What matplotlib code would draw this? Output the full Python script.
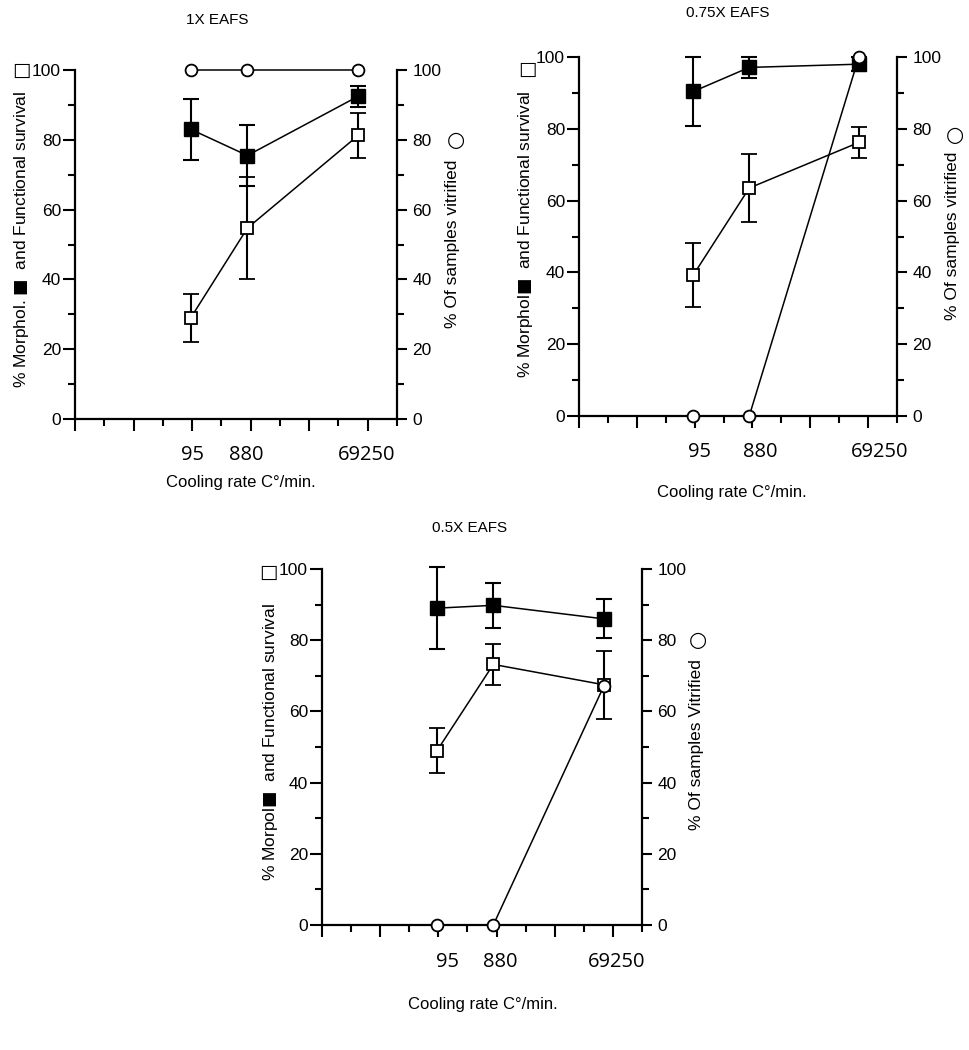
import matplotlib
matplotlib.use('Agg')
import matplotlib.pyplot as plt
from matplotlib.ticker import FixedLocator, NullFormatter, MultipleLocator
from matplotlib import transforms

# ---------------- data ----------------
rates = [95, 880, 69250]
rate_labels = ['95', '880', '69250']

titles = ['1X EAFS', '0.75X EAFS', '0.5X EAFS']
left_labels = ['% Morphol. $\\blacksquare$  and Functional survival',
               '% Morphol$\\blacksquare$  and Functional survival',
               '% Morpol$\\blacksquare$  and Functional survival']
right_labels = ['% Of samples vitrified',
                '% Of samples vitrified',
                '% Of samples Vitrified']
xlabel_text = 'Cooling rate C\u00b0/min.'

# 1X EAFS
morph_1x = [83.0, 75.5, 92.5]
morph_1x_err = [8.7, 8.7, 3.0]
func_1x = [29.0, 54.7, 81.3]
func_1x_err = [6.8, 14.6, 6.4]
vit_1x = [100, 100, 100]

# 0.75X EAFS
morph_075 = [90.4, 97.1, 98.0]
morph_075_err = [9.6, 3.0, 2.0]
func_075 = [39.3, 63.5, 76.2]
func_075_err = [9.0, 9.6, 4.3]
vit_075 = [0, 0, 100]

# 0.5X EAFS
morph_05 = [89.0, 89.8, 86.0]
morph_05_err = [11.5, 6.4, 5.5]
func_05 = [49.0, 73.2, 67.5]
func_05_err = [6.3, 5.8, 9.5]
vit_05 = [0, 0, 67]

series = [
    (morph_1x, morph_1x_err, func_1x, func_1x_err, vit_1x),
    (morph_075, morph_075_err, func_075, func_075_err, vit_075),
    (morph_05, morph_05_err, func_05, func_05_err, vit_05),
]

# ---------------- layout (pixels) ----------------
W, H = 970, 1050
layout = [
    dict(rect=(75, 70, 397, 419), title=(217, 20), xlab=(241, 482), tly=455,
         tldx=[2, -1, 8], ll=(22, 239), sq=(21, 70), rl=(453, 244), ci=(456, 140)),
    dict(rect=(579, 57, 897, 416), title=(728, 13), xlab=(732, 493), tly=452,
         tldx=[6, 11, 21], ll=(526, 234), sq=(527, 69), rl=(953, 236), ci=(955, 135)),
    dict(rect=(322, 569, 642, 925), title=(470, 528), xlab=(483, 1005), tly=962,
         tldx=[10, 7, 13], ll=(270, 742), sq=(268, 572), rl=(697, 745), ci=(698, 640)),
]

FONT = ['Liberation Sans', 'DejaVu Sans']
plt.rcParams['font.family'] = FONT
plt.rcParams['mathtext.fontset'] = 'dejavusans'


def fx(x):
    return x / W


def fy(y):
    return 1 - y / H


fig = plt.figure(figsize=(9.7, 10.5), dpi=100)

for i, (lay, ser) in enumerate(zip(layout, series)):
    morph, morph_err, func, func_err, vit = ser
    x0, y0, x1, y1 = lay['rect']
    ax = fig.add_axes([fx(x0), fy(y1), (x1 - x0) / W, (y1 - y0) / H])
    ax.patch.set_alpha(0)
    ax2 = ax.twinx()

    ax.set_xscale('log')
    ax.set_xlim(1, 10 ** 5.5)
    ax.set_ylim(0, 100)
    ax2.set_ylim(0, 100)

    # ticks
    ax.xaxis.set_major_locator(FixedLocator([10 ** k for k in range(0, 6)]))
    ax.xaxis.set_minor_locator(FixedLocator([10 ** (k + 0.5) for k in range(0, 6)]))
    ax.xaxis.set_major_formatter(NullFormatter())
    ax.xaxis.set_minor_formatter(NullFormatter())
    ax.yaxis.set_major_locator(MultipleLocator(20))
    ax.yaxis.set_minor_locator(MultipleLocator(10))
    ax.tick_params(axis='both', which='major', direction='out', length=8.5, width=1.5,
                   labelsize=12.5, pad=1.5)
    ax.tick_params(axis='both', which='minor', direction='out', length=5, width=1.5)
    for s in ['top', 'right']:
        ax.spines[s].set_visible(False)
    for s in ['left', 'bottom']:
        ax.spines[s].set_linewidth(1.6)

    # data: filled squares (morphological) and open squares (functional)
    ax.errorbar(rates, morph, yerr=morph_err, color='black', lw=1.1, elinewidth=1.5,
                capsize=5.5, capthick=1.5, marker='s', ms=9.5, mfc='black', mec='black',
                clip_on=False, zorder=4)
    ax.errorbar(rates, func, yerr=func_err, color='black', lw=1.1, elinewidth=1.5,
                capsize=5.5, capthick=1.5, marker='s', ms=8, mfc='white', mec='black',
                mew=1.3, clip_on=False, zorder=5)

    # right axis: vitrified samples
    ax2.yaxis.set_major_locator(MultipleLocator(20))
    ax2.yaxis.set_minor_locator(MultipleLocator(10))
    ax2.tick_params(axis='y', which='major', direction='out', length=7.5, width=1.5,
                    labelsize=12.5, pad=3.5)
    ax2.tick_params(axis='y', which='minor', direction='out', length=5, width=1.5)
    for s in ['top', 'left', 'bottom']:
        ax2.spines[s].set_visible(False)
    ax2.spines['right'].set_linewidth(1.6)
    ax2.plot(rates, vit, color='black', lw=1.1, marker='o', ms=8.5, mfc='white',
             mec='black', mew=1.3, clip_on=False, zorder=6)

    # x tick value labels
    trans = transforms.blended_transform_factory(ax.transData, ax.transAxes)
    ty = (y1 - lay['tly']) / (y1 - y0)
    for r, lab, dx in zip(rates, rate_labels, lay['tldx']):
        t = transforms.offset_copy(trans, fig=fig, x=dx, y=0, units='dots')
        ax.text(r, ty, lab, transform=t, ha='center', va='center', fontsize=14.5,
                family=['Open Sans', 'DejaVu Sans'], clip_on=False)

    # texts
    fig.text(fx(lay['title'][0]), fy(lay['title'][1]), titles[i], ha='center',
             va='center', fontsize=11)
    fig.text(fx(lay['xlab'][0]), fy(lay['xlab'][1]), xlabel_text, ha='center',
             va='center', fontsize=12)
    fig.text(fx(lay['ll'][0]), fy(lay['ll'][1]), left_labels[i], rotation=90,
             ha='center', va='center', fontsize=12.5)
    fig.text(fx(lay['sq'][0]), fy(lay['sq'][1]), '\u25A1', ha='center', va='center',
             fontsize=14, family=['DejaVu Sans'])
    fig.text(fx(lay['rl'][0]), fy(lay['rl'][1]), right_labels[i], rotation=90,
             ha='center', va='center', fontsize=12.5)
    fig.text(fx(lay['ci'][0]), fy(lay['ci'][1]), '\u25CB', ha='center', va='center',
             fontsize=15, family=['DejaVu Sans'], fontweight='bold')

fig.savefig('out.png', dpi=100)
